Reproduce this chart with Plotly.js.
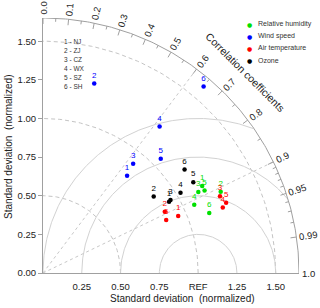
<!DOCTYPE html>
<html>
<head>
<meta charset="utf-8">
<script src="https://cdn.plot.ly/plotly-3.0.1.min.js"></script>
<style>html,body{margin:0;padding:0;background:#fff;}#chart{width:320px;height:308px;}</style>
</head>
<body>
<div id="chart"></div>
<script>
// ---- data (normalized standard deviation, correlation) ----
const stations = ['NJ', 'ZJ', 'CZ', 'WX', 'SZ', 'SH'];
const seriesNames = ['Relative humidity', 'Wind speed', 'Air temperature', 'Ozone'];
const rhStd = [1.17, 1.26, 1.13, 1.07, 1.17, 1.14];
const rhCorr = [0.877, 0.909, 0.886, 0.911, 0.890, 0.940];
const windStd = [0.83, 1.27, 0.915, 1.21, 1.06, 1.59];
const windCorr = [0.653, 0.260, 0.635, 0.621, 0.716, 0.651];
const tempStd = [0.946, 0.879, 1.244, 1.234, 1.265, 0.865];
const tempCorr = [0.921, 0.893, 0.917, 0.939, 0.933, 0.918];
const ozoneStd = [0.934, 0.868, 0.948, 1.027, 1.133, 1.132];
const ozoneCorr = [0.870, 0.822, 0.867, 0.863, 0.855, 0.806];
const stdTicks = [0, 0.25, 0.5, 0.75, 1.0, 1.25, 1.5];
const corrLabels = [0.0, 0.1, 0.2, 0.3, 0.4, 0.5, 0.6, 0.7, 0.8, 0.9, 0.95, 0.99, 1.0];

// ---- styling ----
const R = 1.65;
const colors = ['#00e000', '#0000ff', '#ff0000', '#000000'];
const FONT = 'Liberation Sans, Arial, sans-serif';
const PX = 155; // approx pixels per unit

const traces = [];
function line(xs, ys, color, dash, width) {
  traces.push({x: xs, y: ys, mode: 'lines', type: 'scatter', hoverinfo: 'skip',
    line: {color: color, width: width || 1, dash: dash || 'solid'}});
}
// std arcs (dashed) around origin
[0.5, 1.0, 1.5].forEach(r => {
  const xs = [], ys = [];
  for (let i = 0; i <= 90; i++) { const a = i * Math.PI / 180; xs.push(r * Math.cos(a)); ys.push(r * Math.sin(a)); }
  line(xs, ys, '#c4c4c4', '4px,3px', 1);
});
// RMS arcs around REF
[0.25, 0.5, 0.75, 1.0].forEach(r => {
  const xs = [], ys = [];
  for (let i = 0; i <= 360; i++) {
    const a = i * Math.PI / 360; const x = 1 + r * Math.cos(a), y = r * Math.sin(a);
    if (x >= -1e-9 && x * x + y * y <= R * R) { xs.push(x); ys.push(y); } else { xs.push(null); ys.push(null); }
  }
  line(xs, ys, '#d2d2d2', 'solid', 1);
});
// dotted correlation lines
[0.6, 0.9].forEach(c => {
  line([0, R * c], [0, R * Math.sqrt(1 - c * c)], '#c8c8c8', 'dot', 1);
});
// outer arc
(function () {
  const xs = [], ys = [];
  for (let i = 0; i <= 180; i++) { const a = i * Math.PI / 360; xs.push(R * Math.cos(a)); ys.push(R * Math.sin(a)); }
  line(xs, ys, '#a0a0a0', 'solid', 1);
})();
// correlation ticks
(function () {
  const xs = [], ys = [];
  const ticks = [];
  for (let i = 0; i <= 18; i++) ticks.push(i * 0.05);
  for (let i = 91; i <= 99; i++) ticks.push(i / 100);
  ticks.forEach(c => {
    const major = corrLabels.some(v => Math.abs(v - c) < 1e-6);
    const len = major ? 6 / PX : 3.5 / PX;
    const s = Math.sqrt(1 - c * c);
    xs.push(R * c, (R - len) * c, null); ys.push(R * s, (R - len) * s, null);
  });
  line(xs, ys, '#a0a0a0', 'solid', 1);
})();

// data points
const stdSets = [rhStd, windStd, tempStd, ozoneStd];
const corrSets = [rhCorr, windCorr, tempCorr, ozoneCorr];
stdSets.forEach((sd, k) => {
  const cc = corrSets[k];
  traces.push({
    type: 'scatter', mode: 'markers+text', hoverinfo: 'skip',
    x: sd.map((s, i) => s * cc[i]),
    y: sd.map((s, i) => s * Math.sqrt(1 - cc[i] * cc[i])),
    text: stations.map((_, i) => String(i + 1)),
    textposition: 'top center',
    textfont: {family: FONT, size: 8, color: colors[k]},
    marker: {color: colors[k], size: 4.5},
    cliponaxis: false
  });
});

// annotations in paper coordinates (axes span [0,R] over the full domain)
const P = v => v / R;
const annotations = [];
function ann(o) { o.xref = 'paper'; o.yref = 'paper'; o.showarrow = false; annotations.push(o); }
corrLabels.forEach(c => {
  const t = String(c).length === 1 ? c.toFixed(1) : String(c);
  const fs = 9.5;
  const len = (t.replace('.', '').length * 0.556 + 0.278) * fs;
  const rr = R + (3 + len / 2) / PX;
  const a = Math.acos(c);
  ann({x: P(rr * Math.cos(a)), y: P(rr * Math.sin(a)), text: t,
    textangle: -a * 180 / Math.PI, xanchor: 'center', yanchor: 'middle',
    font: {family: FONT, size: fs, color: '#222'}});
});
ann({x: P(1.303), y: P(1.30), text: 'Correlation coefficients', textangle: 45,
  xanchor: 'center', yanchor: 'middle', font: {family: FONT, size: 10.5, color: '#222'}});
// station key
stations.forEach((s, i) => {
  ann({x: P(0.123), y: P(1.495 - i * 0.058), xanchor: 'left', yanchor: 'middle',
    text: (i + 1) + ' - ' + s, font: {family: FONT, size: 6.5, color: '#333'}});
});
// series key
seriesNames.forEach((n, k) => {
  const yv = 1.61 - k * 0.0777;
  ann({x: P(1.33), y: P(yv), xanchor: 'center', yanchor: 'middle', text: '●',
    font: {family: 'DejaVu Sans', size: 6, color: colors[k]}});
  ann({x: P(1.37), y: P(yv), xanchor: 'left', yanchor: 'middle', text: n,
    font: {family: FONT, size: 7, color: '#333'}});
});
// axis titles
ann({x: 0.543, y: 0, yshift: -25, xanchor: 'center', yanchor: 'middle',
  text: 'Standard deviation  (normalized)', font: {family: FONT, size: 10, color: '#222'}});
ann({x: 0, y: 0.494, xshift: -35, xanchor: 'center', yanchor: 'middle', textangle: -90,
  text: 'Standard deviation  (normalized)', font: {family: FONT, size: 10, color: '#222'}});

const layout = {
  width: 320, height: 308,
  margin: {l: 43, r: 21, t: 18, b: 35, autoexpand: false},
  paper_bgcolor: '#fff', plot_bgcolor: '#fff',
  showlegend: false,
  xaxis: {range: [0, R], showgrid: false, zeroline: false, showline: true, linecolor: '#a0a0a0', linewidth: 1,
    automargin: false,
    tickvals: stdTicks.slice(1), ticktext: stdTicks.slice(1).map(v => v === 1 ? 'REF' : v.toFixed(2)),
    ticks: 'outside', ticklen: 5, tickcolor: 'rgba(0,0,0,0)',
    tickfont: {family: FONT, size: 9.5, color: '#222'}, fixedrange: true},
  yaxis: {range: [0, R], showgrid: false, zeroline: false, showline: true, linecolor: '#a0a0a0', linewidth: 1,
    automargin: false,
    tickvals: stdTicks, ticktext: stdTicks.map(v => v.toFixed(2)),
    ticks: 'outside', ticklen: 4, tickcolor: '#a0a0a0',
    tickfont: {family: FONT, size: 9.5, color: '#222'}, fixedrange: true},
  annotations: annotations
};
Plotly.newPlot('chart', traces, layout, {displayModeBar: false, staticPlot: true});
</script>
</body>
</html>
